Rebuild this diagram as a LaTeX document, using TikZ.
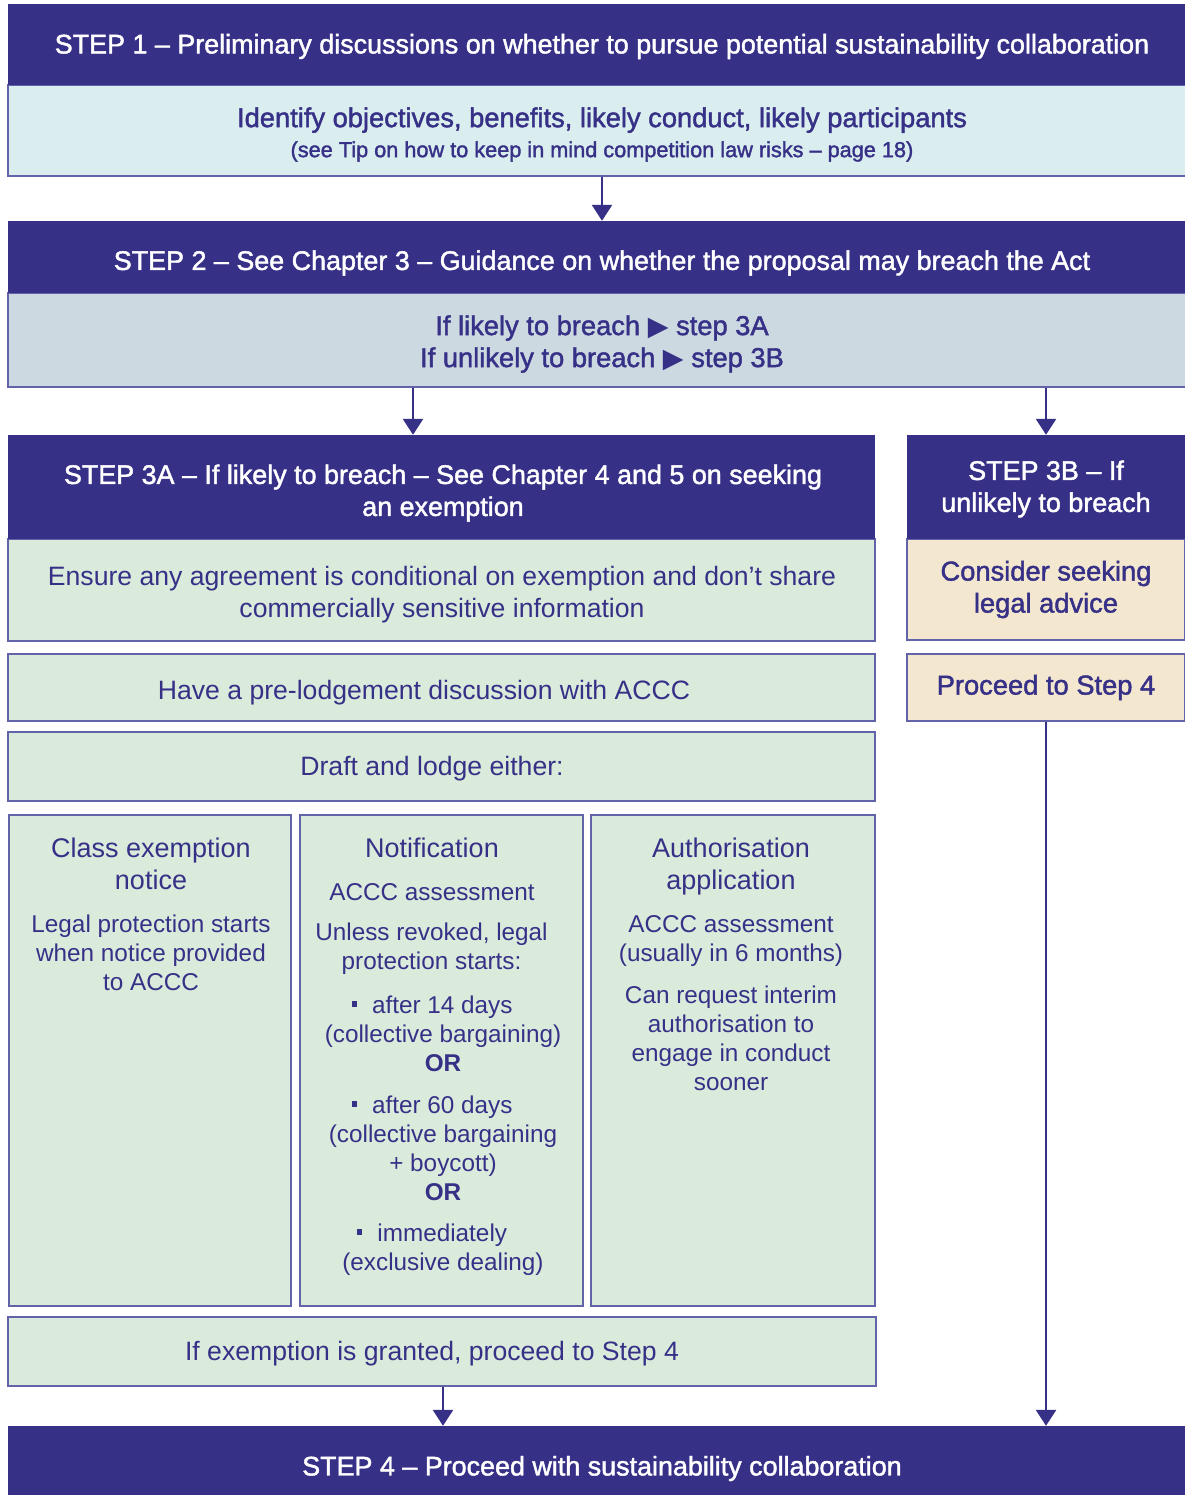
\documentclass[tikz,border=0pt]{standalone}
\usepackage{fontspec}
\setmainfont{Liberation Sans}
\newfontfamily\med[FakeBold=1.6]{Liberation Sans}
\newfontfamily\dejavu{DejaVu Sans}
\usetikzlibrary{arrows.meta}
\definecolor{navy}{RGB}{55,48,135}
\definecolor{bordercol}{RGB}{98,99,168}
\definecolor{lblue}{RGB}{218,238,240}
\definecolor{lgrey}{RGB}{205,217,225}
\definecolor{lgreen}{RGB}{218,235,220}
\definecolor{beige}{RGB}{243,232,207}
\newcommand{\tri}{{\dejavu\fontsize{27}{27}\selectfont ▶}}
\newcommand{\sqb}{\rule[0.28em]{5.5pt}{5.5pt}\hspace{15pt}}
\newcommand{\sqe}{\hspace*{22pt}}
\begin{document}
\begin{tikzpicture}[x=1pt,y=-1pt,
  hdr/.style={fill=navy, inner sep=0pt},
  box/.style={draw=bordercol, line width=1.3pt, inner sep=0pt},
  htxt/.style={inner sep=0pt, align=center, text=white, font=\med\fontsize{26.9}{32}\selectfont},
  txt/.style={inner sep=0pt, align=center, text=navy},
  regtxt/.style={txt, font=\fontsize{26.6}{32}\selectfont},
  medtxt/.style={txt, font=\med\fontsize{27.3}{32}\selectfont},
  smtxt/.style={txt, font=\fontsize{24.3}{29}\selectfont},
  arr/.style={draw=navy, line width=2.6pt, -{Triangle[width=20pt,length=16pt]}}
]
\useasboundingbox (0,0) rectangle (1184,1495);
\fill[white] (0,0) rectangle (1184,1495);

% ---------- boxes ----------
\node[box, fill=lblue, minimum width=1178pt, minimum height=91pt] (b1) at (597,130.5) {};
\node[hdr, minimum width=1178pt, minimum height=81pt] (s1) at (597,44.5) {};
\node[box, fill=lgrey, minimum width=1178pt, minimum height=94pt] (b2) at (597,340) {};
\node[hdr, minimum width=1178pt, minimum height=72pt] (s2) at (597,257) {};
\node[box, fill=lgreen, minimum width=867pt, minimum height=102pt] (g1) at (441.5,590) {};
\node[hdr, minimum width=867pt, minimum height=104pt] (s3a) at (441.5,487) {};
\node[box, fill=lgreen, minimum width=867pt, minimum height=67pt] (g2) at (441.5,687.5) {};
\node[box, fill=lgreen, minimum width=867pt, minimum height=69pt] (g3) at (441.5,766.5) {};
\node[box, fill=lgreen, minimum width=282pt, minimum height=491pt] (c1) at (150,1060.5) {};
\node[box, fill=lgreen, minimum width=283pt, minimum height=491pt] (c2) at (441.5,1060.5) {};
\node[box, fill=lgreen, minimum width=284pt, minimum height=491pt] (c3) at (733,1060.5) {};
\node[box, fill=lgreen, minimum width=868pt, minimum height=69pt] (g4) at (442,1351.5) {};
\node[box, fill=beige, minimum width=278pt, minimum height=101pt] (y1) at (1046,589.5) {};
\node[hdr, minimum width=278pt, minimum height=104pt] (s3b) at (1046,487) {};
\node[box, fill=beige, minimum width=278pt, minimum height=67pt] (y2) at (1046,687.5) {};
\node[hdr, minimum width=1178pt, minimum height=69pt] (s4) at (597,1460.5) {};

% ---------- texts ----------
\node[htxt] (s1t) at (602,46.5)
  {STEP 1 – Preliminary discussions on whether to pursue potential sustainability collaboration};
\node[medtxt] (b1t) at (602,134.5)
  {Identify objectives, benefits, likely conduct, likely participants\\[-2pt]
   {\fontsize{21.7}{25}\selectfont (see Tip on how to keep in mind competition law risks – page 18)}};
\node[htxt] (s2t) at (602,263)
  {STEP 2 – See Chapter 3 – Guidance on whether the proposal may breach the Act};
\node[medtxt] (b2t) at (602,344)
  {If likely to breach \tri\ step 3A\\If unlikely to breach \tri\ step 3B};
\node[htxt] (s3at) at (443,493)
  {STEP 3A – If likely to breach – See Chapter 4 and 5 on seeking\\an exemption};
\node[regtxt] (g1t) at (442,595)
  {Ensure any agreement is conditional on exemption and don’t share\\commercially sensitive information};
\node[regtxt] (g2t) at (424,692.5) {Have a pre-lodgement discussion with ACCC};
\node[regtxt] (g3t) at (432,768.5) {Draft and lodge either:};

\node[txt, font=\fontsize{27}{32}\selectfont] (c1t) at (151,864) {Class exemption\\notice};
\node[smtxt] (c1b) at (151,952.5)
  {Legal protection starts\\when notice provided\\to ACCC};

\node[txt, font=\fontsize{27}{32}\selectfont] (c2t) at (432,848) {Notification};
\node[smtxt] (c2a) at (432,892) {ACCC assessment};
\node[smtxt] (c2b) at (431.5,948.5) {Unless revoked, legal\\protection starts:};
\node[smtxt] (c2c) at (443,1034)
  {\sqb after 14 days\sqe\\(collective bargaining)\\\bfseries OR};
\node[smtxt] (c2d) at (443,1148.5)
  {\sqb after 60 days\sqe\\(collective bargaining\\+ boycott)\\\bfseries OR};
\node[smtxt] (c2e) at (443,1250)
  {\sqb immediately\sqe\\(exclusive dealing)};

\node[txt, font=\fontsize{27}{32}\selectfont] (c3t) at (731,867) {Authorisation\\application};
\node[smtxt] (c3a) at (731,941.5) {ACCC assessment\\(usually in 6 months)};
\node[smtxt] (c3b) at (731,1038) {Can request interim\\authorisation to\\engage in conduct\\sooner};

\node[regtxt] (g4t) at (432,1353.5) {If exemption is granted, proceed to Step 4};

\node[htxt] (s3bt) at (1046,489) {STEP 3B – If\\unlikely to breach};
\node[medtxt] (y1t) at (1046,589.5) {Consider seeking\\legal advice};
\node[medtxt] (y2t) at (1046,687.5) {Proceed to Step 4};
\node[htxt] (s4t) at (602,1468.5) {STEP 4 – Proceed with sustainability collaboration};

% ---------- connectors ----------
\coordinate (xa) at (602,0);
\coordinate (xb) at (413,0);
\coordinate (xc) at (1046,0);
\coordinate (xd) at (443,0);
\draw[arr] (xa |- b1.south) -- (xa |- s2.north);
\draw[arr] (xb |- b2.south) -- (xb |- s3a.north);
\draw[arr] (xc |- b2.south) -- (xc |- s3b.north);
\draw[arr] (xd |- g4.south) -- (xd |- s4.north);
\draw[arr] (y2.south) -- (xc |- s4.north);
\end{tikzpicture}
\end{document}
